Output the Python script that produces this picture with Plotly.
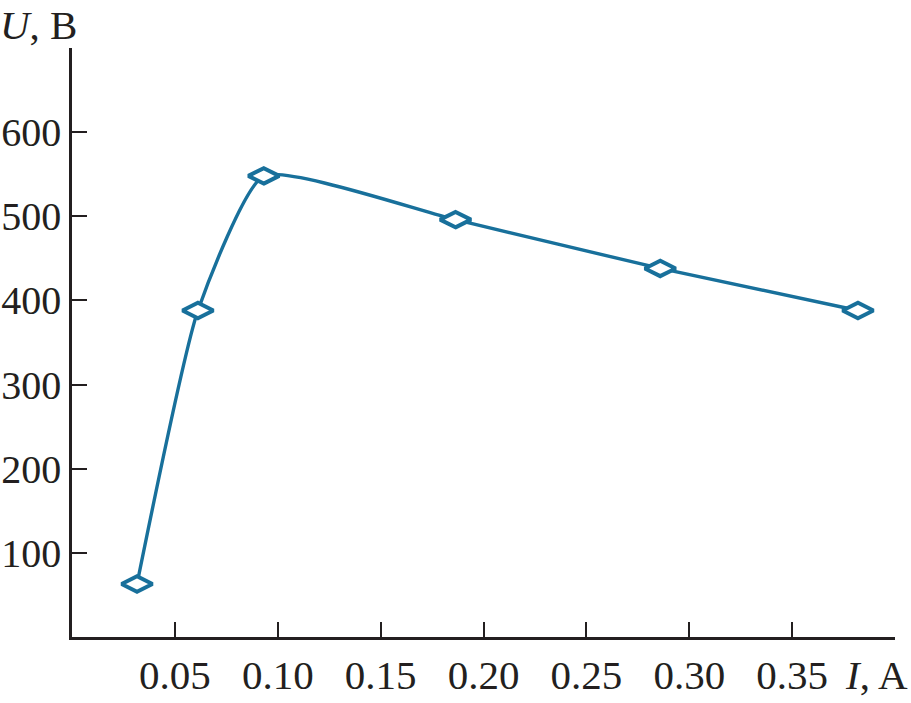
import plotly.graph_objects as go

current_A = [0.0316, 0.0612, 0.0932, 0.1864, 0.2859, 0.3820]
voltage_V = [63, 388, 548, 496, 438, 388]
x_ticks = [0.05, 0.10, 0.15, 0.20, 0.25, 0.30, 0.35]
x_tick_labels = ["0.05", "0.10", "0.15", "0.20", "0.25", "0.30", "0.35"]
y_ticks = [100, 200, 300, 400, 500, 600]
y_tick_labels = ["100", "200", "300", "400", "500", "600"]

color = "#18709b"
ink = "#231f20"
font_family = "Liberation Serif"
fsize = 41

fig = go.Figure()
fig.add_trace(go.Scatter(
    x=current_A, y=voltage_V, mode="lines+markers",
    line=dict(color=color, width=3.4, shape="spline", smoothing=0.5),
    marker=dict(symbol="diamond-wide", size=22, color="white",
                line=dict(color=color, width=4)),
    showlegend=False,
))

fig.update_layout(
    width=911, height=703,
    margin=dict(l=72, r=16, t=48, b=66),
    paper_bgcolor="white", plot_bgcolor="white",
    font=dict(family=font_family, size=fsize, color=ink),
    xaxis=dict(range=[0, 0.4], tickvals=x_ticks, ticktext=x_tick_labels,
               showgrid=False, zeroline=False, showline=True, automargin=False,
               linecolor=ink, linewidth=2.5, ticks="inside",
               ticklen=15, tickwidth=2, tickcolor=ink),
    yaxis=dict(range=[0, 700], tickvals=y_ticks, ticktext=y_tick_labels,
               showgrid=False, zeroline=False, showline=True, automargin=False,
               linecolor=ink, linewidth=2.5, ticks="inside",
               ticklen=15, tickwidth=2, tickcolor=ink,
               tickfont=dict(size=40)),
    annotations=[
        dict(text="<i>U</i>, B", xref="paper", yref="paper", x=0, y=1,
             xanchor="right", yanchor="middle", xshift=7, yshift=23,
             showarrow=False, font=dict(size=fsize)),
        dict(text="<i>I</i>, A", xref="paper", yref="paper", x=1, y=0,
             xanchor="right", yanchor="middle", xshift=15, yshift=-38,
             showarrow=False, font=dict(size=fsize)),
    ],
)

fig.write_html(
    "out.html",
    config={"displayModeBar": False},
    post_script="document.body.style.margin='0';document.body.style.overflow='hidden';",
)
